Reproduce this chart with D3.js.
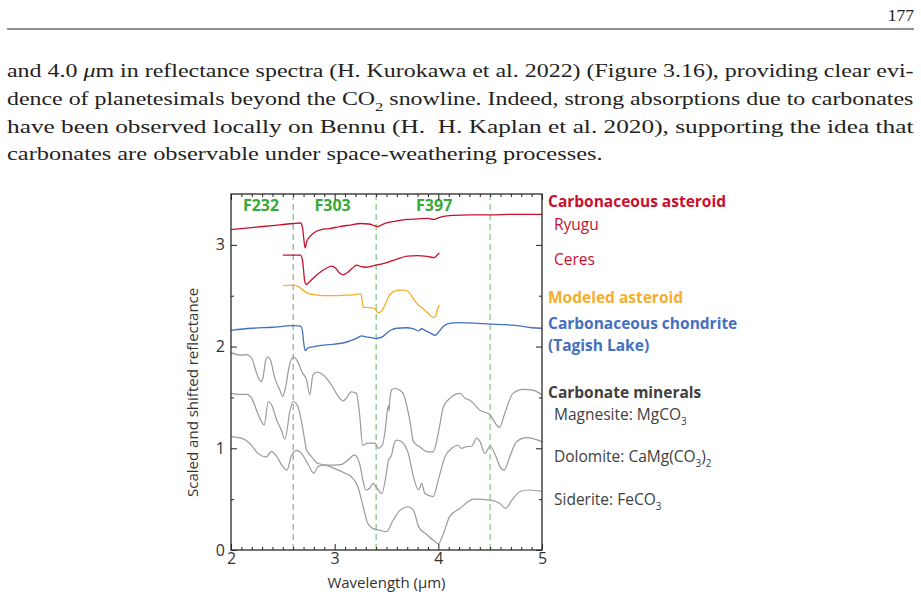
<!DOCTYPE html>
<html>
<head>
<meta charset="utf-8">
<script src="https://cdn.jsdelivr.net/npm/d3@7"></script>
<style>
  body { margin: 0; background: #fff; }
  svg { display: block; }
</style>
</head>
<body>
<div id="page"></div>
<script>
// Spectra as [wavelength (µm), scaled & shifted reflectance]
const ryugu = [[2.0,3.15],[2.2,3.17],[2.4,3.19],[2.6,3.21],[2.67,3.215],[2.69,3.17],[2.70,3.08],[2.715,2.97],
  [2.73,3.03],[2.76,3.08],[2.80,3.12],[2.87,3.15],[2.95,3.16],[3.05,3.18],[3.15,3.195],[3.25,3.21],[3.33,3.205],
  [3.38,3.19],[3.41,3.18],[3.45,3.195],[3.5,3.215],[3.6,3.235],[3.7,3.25],[3.8,3.255],[3.9,3.26],[3.95,3.25],
  [4.0,3.265],[4.05,3.28],[4.15,3.29],[4.3,3.295],[4.5,3.295],[4.7,3.30],[5.0,3.30]];

const ceres = [[2.50,2.90],[2.60,2.90],[2.67,2.90],[2.69,2.85],[2.70,2.75],[2.71,2.65],[2.725,2.61],[2.75,2.63],
  [2.80,2.68],[2.86,2.73],[2.92,2.77],[2.97,2.79],[3.01,2.77],[3.05,2.72],[3.08,2.705],[3.12,2.725],[3.17,2.77],
  [3.21,2.80],[3.26,2.785],[3.30,2.78],[3.40,2.80],[3.50,2.825],[3.60,2.86],[3.70,2.89],[3.80,2.895],[3.90,2.885],
  [3.96,2.875],[3.99,2.90],[4.01,2.92]];

const modeled = [[2.50,2.60],[2.60,2.605],[2.65,2.59],[2.70,2.55],[2.75,2.52],[2.80,2.51],[2.9,2.50],[3.0,2.50],
  [3.1,2.505],[3.2,2.51],[3.24,2.52],[3.255,2.515],[3.265,2.45],[3.275,2.385],[3.31,2.385],[3.36,2.38],[3.39,2.37],
  [3.42,2.33],[3.46,2.36],[3.49,2.42],[3.52,2.49],[3.56,2.535],[3.62,2.555],[3.68,2.555],[3.72,2.53],[3.76,2.47],
  [3.80,2.415],[3.85,2.375],[3.90,2.33],[3.95,2.285],[3.975,2.30],[3.99,2.36],[4.01,2.41]];

const tagishLake = [[2.0,2.16],[2.2,2.18],[2.4,2.19],[2.6,2.205],[2.67,2.20],[2.69,2.15],[2.70,2.05],[2.715,1.96],
  [2.74,1.985],[2.80,2.00],[2.9,2.015],[3.0,2.025],[3.1,2.04],[3.2,2.075],[3.26,2.105],[3.3,2.095],[3.34,2.09],
  [3.40,2.08],[3.46,2.095],[3.50,2.13],[3.54,2.16],[3.6,2.18],[3.69,2.185],[3.76,2.175],[3.81,2.155],[3.84,2.175],
  [3.87,2.16],[3.92,2.135],[3.97,2.11],[4.0,2.14],[4.05,2.20],[4.12,2.23],[4.2,2.235],[4.35,2.23],[4.5,2.22],
  [4.65,2.215],[4.8,2.20],[4.9,2.185],[5.0,2.18]];

const magnesite = [[2.0,1.94],[2.10,1.915],[2.15,1.92],[2.20,1.885],[2.24,1.76],[2.27,1.68],[2.29,1.655],[2.31,1.70],
  [2.33,1.84],[2.35,1.90],[2.38,1.87],[2.42,1.70],[2.47,1.575],[2.50,1.51],[2.53,1.62],[2.56,1.80],[2.60,1.90],
  [2.64,1.86],[2.69,1.74],[2.73,1.67],[2.76,1.525],[2.79,1.72],[2.83,1.75],[2.89,1.72],[2.97,1.62],[3.05,1.49],
  [3.08,1.465],[3.11,1.49],[3.16,1.555],[3.21,1.54],[3.24,1.34],[3.27,1.03],[3.32,1.05],[3.39,1.05],[3.42,1.00],
  [3.46,1.03],[3.49,1.20],[3.51,1.38],[3.52,1.42],[3.525,1.37],[3.53,1.45],[3.55,1.575],[3.58,1.59],[3.64,1.56],
  [3.66,1.54],[3.73,1.245],[3.76,1.065],[3.82,1.015],[3.90,0.965],[3.95,0.965],[4.00,1.15],[4.05,1.41],[4.11,1.49],
  [4.21,1.54],[4.26,1.49],[4.29,1.48],[4.32,1.46],[4.40,1.375],[4.50,1.33],[4.55,1.245],[4.59,1.205],[4.64,1.34],
  [4.72,1.54],[4.82,1.58],[4.92,1.57],[5.0,1.525]];

const dolomite = [[2.0,1.54],[2.08,1.53],[2.15,1.53],[2.20,1.49],[2.26,1.34],[2.32,1.23],[2.36,1.46],[2.39,1.43],
  [2.44,1.28],[2.485,1.18],[2.52,1.09],[2.57,1.375],[2.60,1.46],[2.645,1.41],[2.69,1.21],[2.73,0.98],[2.775,0.92],
  [2.84,0.85],[2.935,0.835],[3.06,0.84],[3.13,0.885],[3.19,0.935],[3.24,0.85],[3.27,0.70],[3.30,0.59],[3.34,0.61],
  [3.37,0.655],[3.40,0.62],[3.455,0.555],[3.49,0.70],[3.52,0.885],[3.55,0.935],[3.565,1.015],[3.60,1.08],[3.645,1.065],
  [3.71,0.95],[3.76,0.72],[3.81,0.59],[3.84,0.655],[3.87,0.555],[3.95,0.525],[4.00,0.69],[4.065,0.92],[4.13,1.00],
  [4.19,1.03],[4.22,1.00],[4.27,1.015],[4.32,1.02],[4.37,1.10],[4.40,1.07],[4.45,0.95],[4.50,1.02],[4.55,0.935],
  [4.595,0.82],[4.635,0.785],[4.69,0.92],[4.755,1.065],[4.85,1.105],[5.0,1.065]];

const siderite = [[2.0,1.115],[2.10,1.10],[2.18,1.05],[2.26,0.95],[2.34,0.915],[2.39,0.97],[2.44,0.92],[2.50,0.82],
  [2.54,0.785],[2.58,0.92],[2.63,0.98],[2.68,0.95],[2.74,0.85],[2.80,0.755],[2.84,0.82],[2.90,0.835],[3.00,0.80],
  [3.10,0.755],[3.16,0.72],[3.225,0.62],[3.275,0.425],[3.32,0.26],[3.37,0.21],[3.43,0.195],[3.50,0.18],[3.565,0.295],
  [3.63,0.39],[3.71,0.425],[3.76,0.39],[3.81,0.23],[3.89,0.15],[3.97,0.08],[4.00,0.06],[4.05,0.165],[4.11,0.33],
  [4.21,0.41],[4.34,0.50],[4.50,0.49],[4.59,0.46],[4.65,0.41],[4.71,0.49],[4.79,0.575],[4.88,0.59],[5.0,0.575]];

// Filter band edges and labels
const filterEdges = [2.6, 3.4, 4.5];
const filterNames = ['F232', 'F303', 'F397'];
const filterLabelX = [2.29, 2.98, 3.96];

const xMajor = [2, 3, 4, 5];
const yMajor = [0, 1, 2, 3];

const width = 921, height = 597;
const RED = '#c8102e', ORANGE = '#f7ae2a', BLUE = '#4470c0', GRAY = '#9a9a9a', DARK = '#404040', GREEN = '#36a936';
const sans = "'Open Sans', 'Noto Sans', sans-serif";

const svg = d3.select('#page').append('svg')
  .attr('width', width)
  .attr('height', height);
svg.append('rect').attr('width', width).attr('height', height).attr('fill', '#fff');

// helper: writes [text, kind] segments into a text node (kind: it / sub)
function segments(textSel, segs, subSize) {
  segs.forEach(([t, kind], i) => {
    const ts = textSel.append('tspan').text(t);
    if (kind === 'it') ts.attr('font-style', 'italic');
    if (kind === 'sub') ts.attr('dy', subSize * 0.45).attr('font-size', subSize);
    const prev = segs[i - 1];
    if (prev && prev[1] === 'sub') ts.attr('dy', -subSize * 0.45);
  });
}

// --- Page header ---
const serif = "Liberation Serif";
svg.append('text')
  .attr('x', 914).attr('y', 21)
  .attr('text-anchor', 'end')
  .attr('font-family', serif).attr('font-size', 17.5)
  .attr('fill', '#222')
  .text('177');

svg.append('line')
  .attr('x1', 7).attr('x2', 914).attr('y1', 29).attr('y2', 29)
  .attr('stroke', '#6e6e6e').attr('stroke-width', 1.6);

const bodyLines = [
  [['and 4.0 '], ['μ', 'it'], ['m in reflectance spectra (H. Kurokawa et al. 2022) (Figure 3.16), providing clear evi-']],
  [['dence of planetesimals beyond the CO'], ['2', 'sub'], [' snowline. Indeed, strong absorptions due to carbonates']],
  [['have been observed locally on Bennu (H.  H. Kaplan et al. 2020), supporting the idea that']],
  [['carbonates are observable under space-weathering processes.']]
];
const bodyBaselines = [77, 105, 133, 160];
const textLeft = 7, textRight = 914;

const scales = [];
const bodyNodes = bodyLines.map((segs, i) => {
  const t = svg.append('text')
    .attr('x', 0).attr('y', 0)
    .attr('font-family', serif).attr('font-size', 18)
    .attr('fill', '#222')
    .style('white-space', 'pre');
  segments(t, segs, 12.5);
  return t;
});
bodyNodes.forEach((t, i) => {
  if (i < 3) {
    const s = (textRight - textLeft) / t.node().getComputedTextLength();
    scales.push(s);
  }
});
const meanScale = d3.mean(scales);
bodyNodes.forEach((t, i) => {
  const s = i < 3 ? scales[i] : meanScale;
  t.attr('transform', `translate(${textLeft},${bodyBaselines[i]}) scale(${s},1)`);
});

// --- Chart ---
const x = d3.scaleLinear().domain([2, 5]).range([231, 542]);
const y = d3.scaleLinear().domain([0, 3.5]).range([550, 194]);

const chart = svg.append('g').attr('class', 'chart');

// Filter edges
chart.selectAll('.edge')
  .data(filterEdges)
  .enter().append('line')
  .attr('class', 'edge')
  .attr('x1', d => x(d)).attr('x2', d => x(d))
  .attr('y1', y(3.5)).attr('y2', y(0))
  .attr('stroke', (d, i) => i === 0 ? '#86a386' : (i === 2 ? '#a8d8a8' : '#6cbd6c'))
  .attr('stroke-width', (d, i) => i === 2 ? 1.8 : 1.1)
  .attr('stroke-dasharray', '6,4');

chart.selectAll('.flabel')
  .data(filterNames)
  .enter().append('text')
  .attr('class', 'flabel')
  .attr('x', (d, i) => x(filterLabelX[i]))
  .attr('y', 211)
  .attr('text-anchor', 'middle')
  .attr('font-family', sans).attr('font-size', 16).attr('font-weight', 'bold')
  .attr('fill', GREEN)
  .text(d => d);

// Spectra
const line = d3.line()
  .x(d => x(d[0]))
  .y(d => y(d[1]))
  .curve(d3.curveMonotoneX);

const series = [
  { data: magnesite, color: GRAY, w: 1.2 },
  { data: dolomite, color: GRAY, w: 1.2 },
  { data: siderite, color: GRAY, w: 1.2 },
  { data: tagishLake, color: BLUE, w: 1.3 },
  { data: modeled, color: ORANGE, w: 1.3 },
  { data: ceres, color: RED, w: 1.3 },
  { data: ryugu, color: RED, w: 1.3 }
];
chart.selectAll('.spec')
  .data(series)
  .enter().append('path')
  .attr('class', 'spec')
  .attr('fill', 'none')
  .attr('stroke', d => d.color)
  .attr('stroke-width', d => d.w)
  .attr('stroke-linejoin', 'round')
  .attr('d', d => line(d.data));

// --- Axes (inward ticks on all four sides) ---
const xMinor = d3.range(21, 50).filter(v => v % 10 !== 0).map(v => v / 10);
const yMinor = [0.5, 1.5, 2.5];

function styleAxis(g) {
  g.select('.domain').remove();
  g.selectAll('.tick line').attr('stroke', '#222').attr('stroke-width', 1);
  g.selectAll('.tick text').attr('font-family', sans).attr('font-size', 16).attr('fill', '#333');
}

chart.append('g').attr('transform', `translate(0,${y(0)})`)
  .call(d3.axisBottom(x).tickValues(xMinor).tickSize(-3).tickFormat(''))
  .call(styleAxis);
chart.append('g').attr('transform', `translate(0,${y(0)})`)
  .call(d3.axisBottom(x).tickValues(xMajor).tickSize(-6).tickPadding(3).tickFormat(d3.format('d')))
  .call(styleAxis);
chart.append('g').attr('transform', `translate(0,${y(3.5)})`)
  .call(d3.axisTop(x).tickValues(xMinor).tickSize(-3).tickFormat(''))
  .call(styleAxis);
chart.append('g').attr('transform', `translate(0,${y(3.5)})`)
  .call(d3.axisTop(x).tickValues(xMajor).tickSize(-6).tickFormat(''))
  .call(styleAxis);

chart.append('g').attr('transform', `translate(${x(2)},0)`)
  .call(d3.axisLeft(y).tickValues(yMajor).tickSize(-6).tickPadding(6).tickFormat(d3.format('d')))
  .call(styleAxis);
chart.append('g').attr('transform', `translate(${x(2)},0)`)
  .call(d3.axisLeft(y).tickValues(yMinor).tickSize(-3).tickFormat(''))
  .call(styleAxis);
chart.append('g').attr('transform', `translate(${x(5)},0)`)
  .call(d3.axisRight(y).tickValues(yMajor).tickSize(-6).tickFormat(''))
  .call(styleAxis);
chart.append('g').attr('transform', `translate(${x(5)},0)`)
  .call(d3.axisRight(y).tickValues(yMinor).tickSize(-3).tickFormat(''))
  .call(styleAxis);

// frame
chart.append('rect')
  .attr('x', x(2)).attr('y', y(3.5))
  .attr('width', x(5) - x(2)).attr('height', y(0) - y(3.5))
  .attr('fill', 'none').attr('stroke', '#2a2a2a').attr('stroke-width', 1.3);

// axis titles
chart.append('text')
  .attr('x', (x(2) + x(5)) / 2).attr('y', 588)
  .attr('text-anchor', 'middle')
  .attr('font-family', sans).attr('font-size', 15).attr('fill', '#333')
  .text('Wavelength (µm)');

chart.append('text')
  .attr('transform', `translate(198,${y(1.55)}) rotate(-90)`)
  .attr('text-anchor', 'middle')
  .attr('font-family', sans).attr('font-size', 15).attr('fill', '#333')
  .text('Scaled and shifted reflectance');

// --- Legend labels ---
const legend = [
  { segs: [['Carbonaceous asteroid']], color: RED, bold: true, base: 207 },
  { segs: [['Ryugu']], color: RED, indent: true, base: 230 },
  { segs: [['Ceres']], color: RED, indent: true, base: 265 },
  { segs: [['Modeled asteroid']], color: ORANGE, bold: true, base: 303 },
  { segs: [['Carbonaceous chondrite']], color: BLUE, bold: true, base: 329 },
  { segs: [['(Tagish Lake)']], color: BLUE, bold: true, base: 350.5 },
  { segs: [['Carbonate minerals']], color: DARK, bold: true, base: 398 },
  { segs: [['Magnesite: MgCO'], ['3', 'sub']], color: DARK, indent: true, base: 420 },
  { segs: [['Dolomite: CaMg(CO'], ['3', 'sub'], [')'], ['2', 'sub']], color: DARK, indent: true, base: 462 },
  { segs: [['Siderite: FeCO'], ['3', 'sub']], color: DARK, indent: true, base: 505 }
];
legend.forEach(d => {
  const t = svg.append('text')
    .attr('x', d.indent ? 554 : 548).attr('y', d.base)
    .attr('font-family', sans).attr('font-size', 15.5)
    .attr('font-weight', d.bold ? 'bold' : 'normal')
    .attr('fill', d.color);
  segments(t, d.segs, 10);
});
</script>
</body>
</html>
